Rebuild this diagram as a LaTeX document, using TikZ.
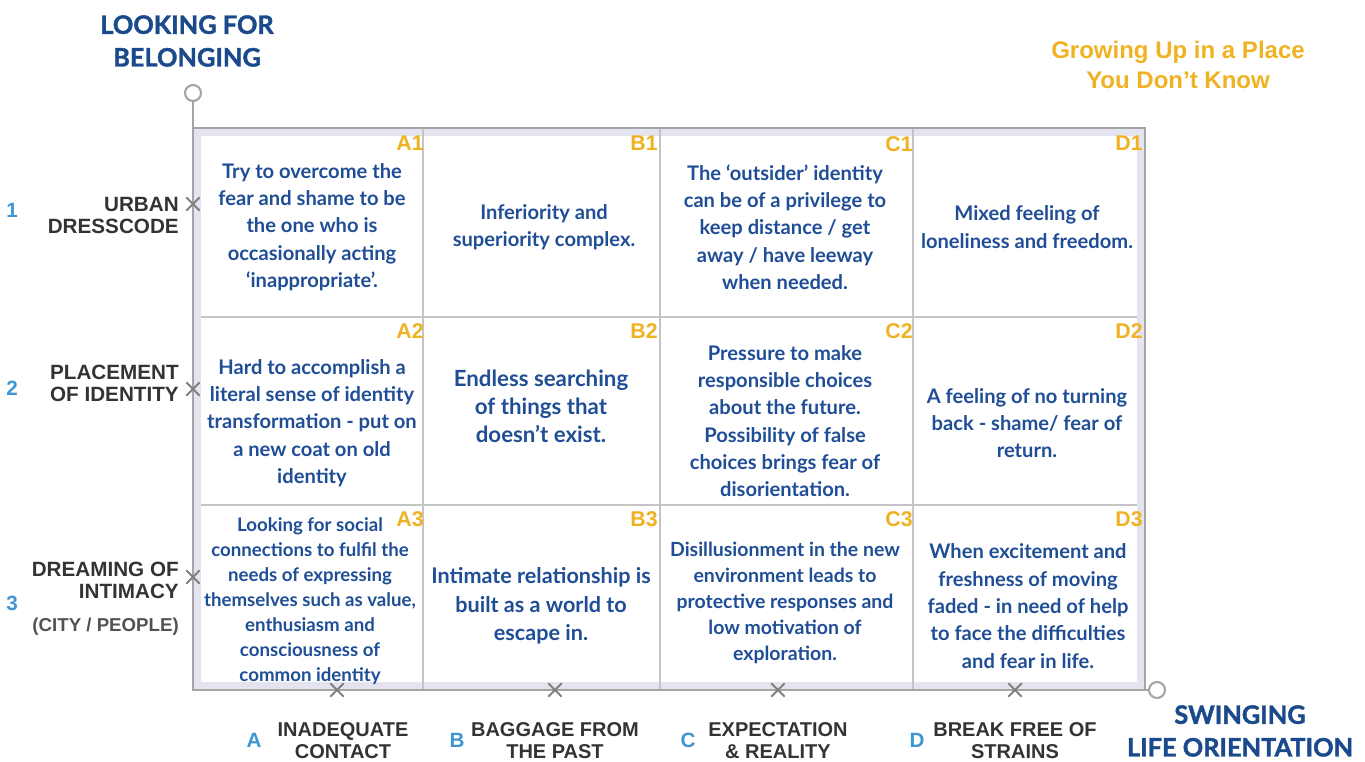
\documentclass[tikz,border=0pt]{standalone}
\usepackage{fontspec}
\setmainfont{Liberation Sans}
\newfontfamily\cellfont{Lato}
\newfontfamily\heavyfont{Lato}[BoldFeatures={FakeBold=1.6}]
\usetikzlibrary{shapes.misc}

\definecolor{cellblue}{HTML}{1F4E96}
\definecolor{titleblue}{HTML}{1B4A8C}
\definecolor{markyellow}{HTML}{EFB222}
\definecolor{letterblue}{HTML}{3D95D3}
\definecolor{labelgray}{HTML}{333333}
\definecolor{axisgray}{HTML}{A5A5A5}
\definecolor{gridgray}{HTML}{C4C4C4}
\definecolor{bandlav}{HTML}{E4E4F0}

\tikzset{
  celltext/.style={align=center, text=cellblue, inner sep=0pt, font=\cellfont\bfseries\fontsize{15.1}{20.5}\selectfont},
  cellid/.style={anchor=north east, text=markyellow, inner sep=0pt, font=\bfseries\fontsize{16}{16}\selectfont},
  rowlabel/.style={anchor=east, align=right, text=labelgray, inner sep=0pt, font=\bfseries\fontsize{15.5}{16.5}\selectfont},
  collabel/.style={align=center, text=labelgray, inner sep=0pt, font=\bfseries\fontsize{15}{16.5}\selectfont},
  letter/.style={text=letterblue, inner sep=0pt, font=\bfseries\fontsize{15.5}{15.5}\selectfont},
  axistitle/.style={align=center, text=titleblue, inner sep=0pt, font=\heavyfont\bfseries\fontsize{19}{24.5}\selectfont},
  xmark/.style={cross out, draw=gray, line width=1.5pt, minimum size=8.5pt, inner sep=0pt},
  tip/.style={circle, draw=axisgray, line width=1.6pt, fill=white, minimum size=12pt, inner sep=0pt},
}

\begin{document}
\begin{tikzpicture}[x=0.75pt, y=-0.75pt]
\useasboundingbox (0,0) rectangle (1365,762);

% frame and grid
\fill[bandlav] (193,128) rectangle (1145,690);
\fill[white] (201,136) rectangle (1137,682);
\foreach \gx in {423,660,913} \draw[gridgray, line width=0.9pt] (\gx,128) -- (\gx,690);
\foreach \gy in {317,505} \draw[gridgray, line width=0.9pt] (201,\gy) -- (1137,\gy);

\coordinate (origin) at (193,690);
\coordinate (ftop) at (193,128);
\coordinate (fcorner) at (1145,128);
\coordinate (fright) at (1145,690);
\draw[axisgray, line width=1.5pt] (ftop) -- (fcorner) -- (fright);

% axes
\node[tip] (ytip) at (193,93) {};
\node[tip] (xtip) at (1157,690) {};
\draw[axisgray, line width=2.2pt] (ytip) -- (origin) -- (xtip);

\foreach \my [count=\i] in {204,389,577} \node[xmark] (ym\i) at (193,\my) {};
\foreach \mx [count=\i] in {337,555,778,1015} \node[xmark] (xm\i) at (\mx,690) {};

% titles
\node[axistitle] (ytitle) at (187,41) {LOOKING FOR\\BELONGING};
\node[axistitle] (xtitle) at (1240,731) {SWINGING\\LIFE ORIENTATION};
\node[align=center, text=markyellow, inner sep=0pt, font=\bfseries\fontsize{18}{22.5}\selectfont] (maintitle) at (1178,65) {Growing Up in a Place\\You Don’t Know};

% rows
\node[letter] (n1) at (12,210) {1};
\node[letter] (n2) at (12,388) {2};
\node[letter] (n3) at (12,603) {3};
\node[rowlabel] (row1) at (179,215) {URBAN\\DRESSCODE};
\node[rowlabel] (row2) at (179,383) {PLACEMENT\\OF IDENTITY};
\node[rowlabel] (row3) at (179,580) {DREAMING OF\\INTIMACY};
\node[rowlabel, font=\bfseries\fontsize{14}{15}\selectfont, text=labelgray!85] (row3b) at (179,627) {(CITY / PEOPLE)};

% columns
\node[letter] (la) at (254,740) {A};
\node[letter] (lb) at (457,740) {B};
\node[letter] (lc) at (688,740) {C};
\node[letter] (ld) at (917,740) {D};
\node[collabel] (cola) at (343,741) {INADEQUATE\\CONTACT};
\node[collabel] (colb) at (555,741) {BAGGAGE FROM\\THE PAST};
\node[collabel] (colc) at (778,741) {EXPECTATION\\\& REALITY};
\node[collabel] (cold) at (1015,741) {BREAK FREE OF\\STRAINS};

% cells
\node[celltext] (a1) at (312,227) {Try to overcome the\\fear and shame to be\\the one who is\\occasionally acting\\‘inappropriate’.};
\node[celltext] (b1) at (544,227) {Inferiority and\\superiority complex.};
\node[celltext] (c1) at (785,227) {The ‘outsider’ identity\\can be of a privilege to\\keep distance / get\\away / have leeway\\when needed.};
\node[celltext] (d1) at (1027,227) {Mixed feeling of\\loneliness and freedom.};
\node[celltext] (a2) at (312,423) {Hard to accomplish a\\literal sense of identity\\transformation - put on\\a new coat on old\\identity};
\node[celltext, font=\cellfont\bfseries\fontsize{16.7}{21}\selectfont] (b2) at (541,406) {Endless searching\\of things that\\doesn’t exist.};
\node[celltext] (c2) at (785,421) {Pressure to make\\responsible choices\\about the future.\\Possibility of false\\choices brings fear of\\disorientation.};
\node[celltext] (d2) at (1027,423) {A feeling of no turning\\back - shame/ fear of\\return.};
\node[celltext, font=\cellfont\bfseries\fontsize{14}{18.8}\selectfont] (a3) at (310,601) {Looking for social\\connections to fulfil the\\needs of expressing\\themselves such as value,\\enthusiasm and\\consciousness of\\common identity};
\node[celltext, font=\cellfont\bfseries\fontsize{16.2}{21.5}\selectfont] (b3) at (541,606) {Intimate relationship is\\built as a world to\\escape in.};
\node[celltext, font=\cellfont\bfseries\fontsize{14.6}{19.5}\selectfont] (c3) at (785,603) {Disillusionment in the new\\environment leads to\\protective responses and\\low motivation of\\exploration.};
\node[celltext] (d3) at (1028,606) {When excitement and\\freshness of moving\\faded - in need of help\\to face the difficulties\\and fear in life.};

% cell ids
\foreach \cx/\cl in {424/A,658/B,913/C,1143/D} {
  \node[cellid] (id\cl1) at (\cx,136) {\cl1};
  \node[cellid] (id\cl2) at (\cx,323) {\cl2};
  \node[cellid] (id\cl3) at (\cx,511) {\cl3};
}

\end{tikzpicture}
\end{document}
